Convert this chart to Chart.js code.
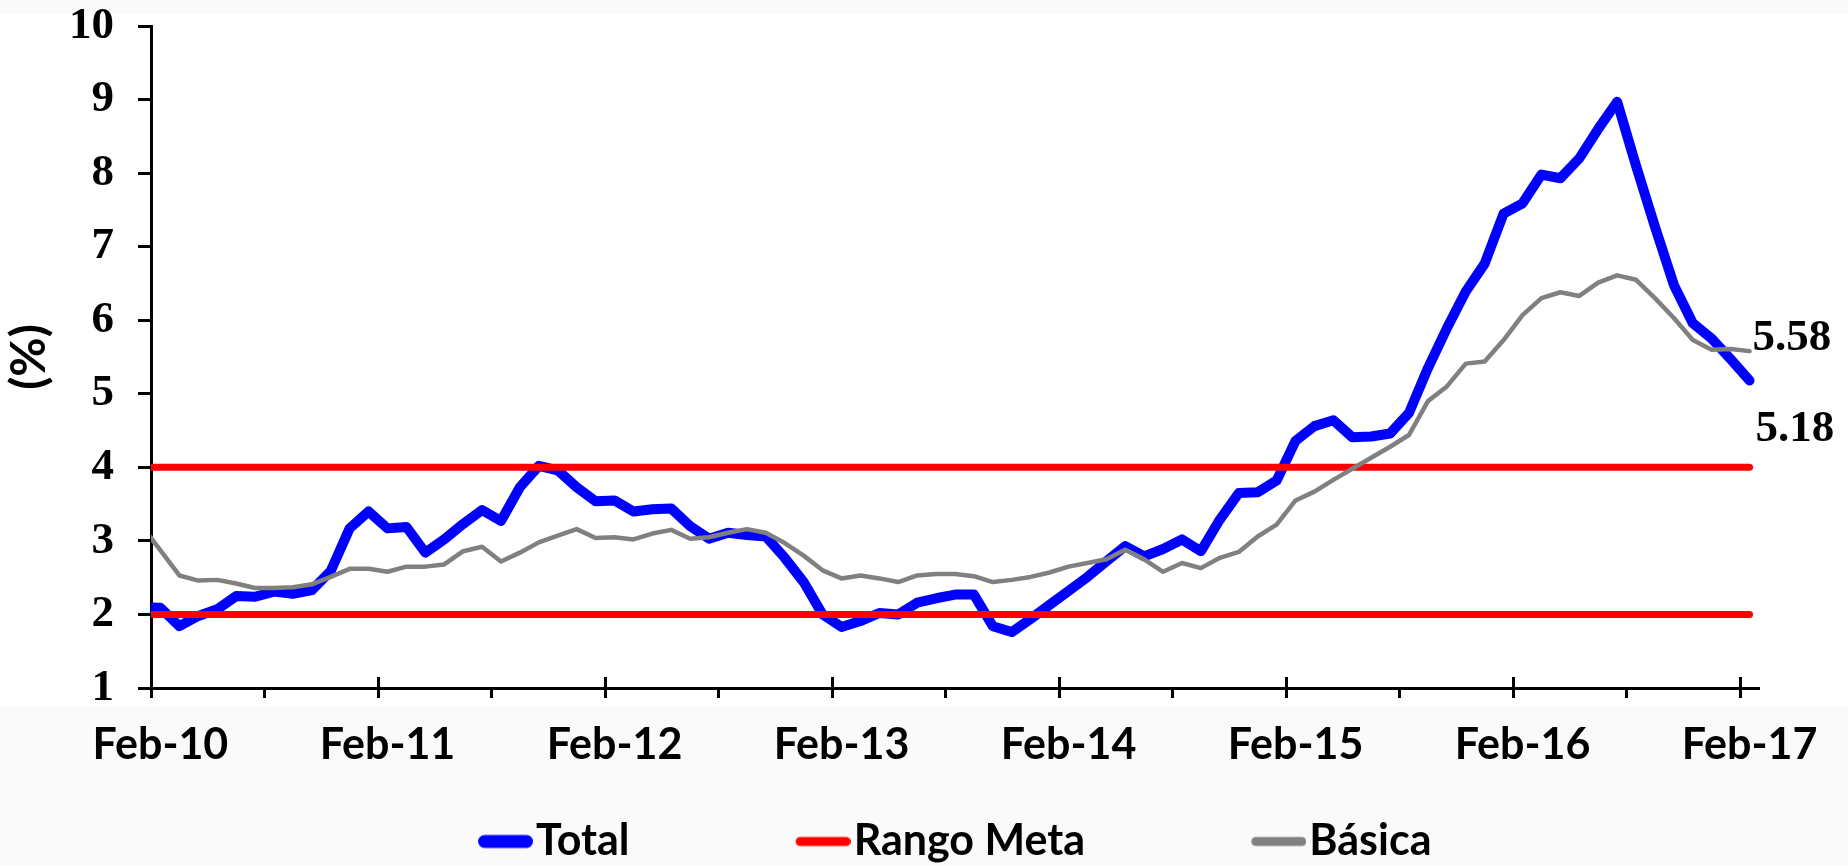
<!DOCTYPE html>
<html>
<head>
<meta charset="utf-8">
<script src="https://cdn.jsdelivr.net/npm/chart.js@4.4.1/dist/chart.umd.min.js"></script>
<style>
  html, body { margin: 0; padding: 0; }
  body {
    width: 1848px; height: 866px; overflow: hidden;
    background: linear-gradient(to bottom, #fafafa 0px, #fafafa 14px, #ffffff 14px, #ffffff 707px, #fafafa 707px, #fafafa 866px);
  }
  #c { display: block; }
</style>
</head>
<body>
<canvas id="c" width="1848" height="866"></canvas>
<script>
// ---------------- DATA ----------------
const months = [
  'Jan-10','Feb-10','Mar-10','Apr-10','May-10','Jun-10','Jul-10','Aug-10','Sep-10','Oct-10','Nov-10','Dec-10',
  'Jan-11','Feb-11','Mar-11','Apr-11','May-11','Jun-11','Jul-11','Aug-11','Sep-11','Oct-11','Nov-11','Dec-11',
  'Jan-12','Feb-12','Mar-12','Apr-12','May-12','Jun-12','Jul-12','Aug-12','Sep-12','Oct-12','Nov-12','Dec-12',
  'Jan-13','Feb-13','Mar-13','Apr-13','May-13','Jun-13','Jul-13','Aug-13','Sep-13','Oct-13','Nov-13','Dec-13',
  'Jan-14','Feb-14','Mar-14','Apr-14','May-14','Jun-14','Jul-14','Aug-14','Sep-14','Oct-14','Nov-14','Dec-14',
  'Jan-15','Feb-15','Mar-15','Apr-15','May-15','Jun-15','Jul-15','Aug-15','Sep-15','Oct-15','Nov-15','Dec-15',
  'Jan-16','Feb-16','Mar-16','Apr-16','May-16','Jun-16','Jul-16','Aug-16','Sep-16','Oct-16','Nov-16','Dec-16',
  'Jan-17','Feb-17'
];

const total = [
  2.10, 2.09, 1.84, 1.98, 2.07, 2.25, 2.24, 2.31, 2.28, 2.33, 2.59, 3.17,
  3.40, 3.17, 3.19, 2.84, 3.02, 3.23, 3.42, 3.27, 3.73, 4.02, 3.96, 3.73,
  3.54, 3.55, 3.40, 3.43, 3.44, 3.20, 3.03, 3.11, 3.08, 3.06, 2.77, 2.44,
  2.00, 1.83, 1.91, 2.02, 2.00, 2.16, 2.22, 2.27, 2.27, 1.84, 1.76, 1.94,
  2.13, 2.32, 2.51, 2.72, 2.93, 2.79, 2.89, 3.02, 2.86, 3.29, 3.65, 3.66,
  3.82, 4.36, 4.56, 4.64, 4.41, 4.42, 4.46, 4.74, 5.35, 5.89, 6.39, 6.77,
  7.45, 7.59, 7.98, 7.93, 8.20, 8.60, 8.97, 8.10, 7.27, 6.48, 5.96, 5.75,
  5.47, 5.18
];

const basica = [
  3.21, 2.87, 2.53, 2.46, 2.47, 2.42, 2.36, 2.36, 2.37, 2.41, 2.51, 2.62,
  2.62, 2.58, 2.65, 2.65, 2.68, 2.86, 2.92, 2.72, 2.84, 2.98, 3.07, 3.16,
  3.04, 3.05, 3.02, 3.10, 3.15, 3.03, 3.05, 3.11, 3.16, 3.11, 2.97, 2.80,
  2.60, 2.49, 2.53, 2.49, 2.44, 2.53, 2.55, 2.55, 2.52, 2.44, 2.47, 2.51,
  2.57, 2.65, 2.70, 2.75, 2.88, 2.75, 2.58, 2.70, 2.63, 2.77, 2.85, 3.06,
  3.22, 3.55, 3.67, 3.83, 3.98, 4.13, 4.28, 4.44, 4.90, 5.10, 5.41, 5.44,
  5.73, 6.07, 6.30, 6.38, 6.33, 6.51, 6.61, 6.55, 6.30, 6.03, 5.73, 5.60,
  5.61, 5.58
];

const targetRange = [2, 4];          // Rango Meta (lower, upper)
const firstShownMonth = 'Feb-10';     // axis starts here
const xTickLabels = ['Feb-10','Feb-11','Feb-12','Feb-13','Feb-14','Feb-15','Feb-16','Feb-17'];
const yTicks = [1, 2, 3, 4, 5, 6, 7, 8, 9, 10];
const seriesNames = { total: 'Total', meta: 'Rango Meta', basica: 'Básica' };

// ---------------- STYLE ----------------
const BLUE = '#0000ff', RED = '#ff0000', GREY = '#808080';
const SANS = 'Lato, "Open Sans", sans-serif';
const SERIF = '"Liberation Serif", "DejaVu Serif", serif';
const LEGEND_FONT = 43;
const LEGEND_BOX = 36;
const SAMPLE_LEN = 55;

function lineSample(color, thickness) {
  const c = document.createElement('canvas');
  c.width = LEGEND_BOX + LEGEND_FONT - 6; c.height = 20;
  const g = c.getContext('2d');
  g.strokeStyle = color; g.lineWidth = thickness; g.lineCap = 'round';
  g.beginPath();
  g.moveTo(c.width - SAMPLE_LEN + thickness / 2, 10);
  g.lineTo(c.width - thickness / 2, 10);
  g.stroke();
  return c;
}

const tickStubs = {
  id: 'tickStubs',
  afterDraw(chart) {
    const xs = chart.scales.x, ctx = chart.ctx, b = chart.chartArea.bottom;
    ctx.save();
    ctx.strokeStyle = '#000'; ctx.lineWidth = 3;
    xs.ticks.forEach(t => {
      if (xTickLabels.includes(months[t.value])) {
        const px = Math.round(xs.getPixelForValue(t.value - 0.5)) + 0.5;
        ctx.beginPath(); ctx.moveTo(px, b - 11); ctx.lineTo(px, b); ctx.stroke();
      }
    });
    ctx.restore();
  }
};

const endLabels = {
  id: 'endLabels',
  afterDatasetsDraw(chart) {
    const ctx = chart.ctx;
    ctx.save();
    ctx.font = 'bold 45px ' + SERIF;
    ctx.fillStyle = '#000';
    ctx.textAlign = 'left';
    ctx.textBaseline = 'alphabetic';
    chart.data.datasets.forEach((ds, di) => {
      if (!ds.endLabel) return;
      const meta = chart.getDatasetMeta(di);
      const pt = meta.data[meta.data.length - 1];
      const v = ds.data[ds.data.length - 1];
      ctx.fillText(v.toFixed(2), pt.x + ds.endLabel.dx, pt.y + ds.endLabel.dy);
    });
    ctx.restore();
  }
};

function build() {
  const lastM = months[months.length - 1];
  const legendDefs = [
    { text: seriesNames.total, color: BLUE, w: 13, ds: 3 },
    { text: seriesNames.meta, color: RED, w: 9, ds: 1 },
    { text: seriesNames.basica, color: GREY, w: 9, ds: 0 }
  ];

  new Chart(document.getElementById('c'), {
    type: 'line',
    data: {
      labels: months,
      datasets: [
        { label: seriesNames.basica, data: basica, borderColor: GREY, borderWidth: 4.5,
          pointRadius: 0, tension: 0, borderJoinStyle: 'round', borderCapStyle: 'round', clip: 0,
          endLabel: { dx: 3, dy: -1 } },
        { label: seriesNames.meta, data: [{x: months[0], y: targetRange[1]}, {x: lastM, y: targetRange[1]}],
          borderColor: RED, borderWidth: 7, pointRadius: 0, borderCapStyle: 'round', clip: 0 },
        { label: seriesNames.meta + ' ', data: [{x: months[0], y: targetRange[0]}, {x: lastM, y: targetRange[0]}],
          borderColor: RED, borderWidth: 7, pointRadius: 0, borderCapStyle: 'round', clip: 0 },
        { label: seriesNames.total, data: total, borderColor: BLUE, borderWidth: 10,
          pointRadius: 0, tension: 0, borderJoinStyle: 'round', borderCapStyle: 'round', clip: 0,
          endLabel: { dx: 6, dy: 60 } }
      ]
    },
    options: {
      responsive: false,
      animation: false,
      devicePixelRatio: 1,
      layout: { padding: { left: 0, top: 26, right: 89, bottom: 0 } },
      plugins: {
        title: { display: false },
        tooltip: { enabled: false },
        legend: {
          display: true,
          position: 'bottom',
          fullSize: false,
          maxHeight: 56,
          labels: {
            usePointStyle: true,
            pointStyleWidth: LEGEND_BOX,
            padding: 10,
            color: '#000',
            font: { family: SANS, size: LEGEND_FONT, weight: 'bold' },
            generateLabels(chart) {
              const ctx = chart.ctx;
              ctx.save(); ctx.font = 'bold ' + LEGEND_FONT + 'px ' + SANS;
              const sp = ctx.measureText(' ').width || 8;
              ctx.restore();
              const n = Math.round(157 / sp);
              return legendDefs.map((d, k) => ({
                text: d.text + (k < legendDefs.length - 1 ? ' '.repeat(n) : ''),
                pointStyle: lineSample(d.color, d.w),
                fillStyle: d.color, strokeStyle: d.color, lineWidth: 0,
                fontColor: '#000', hidden: false, datasetIndex: d.ds
              }));
            }
          }
        }
      },
      scales: {
        x: {
          type: 'category',
          min: firstShownMonth,
          offset: true,
          afterFit(scale) { scale.height = 122; },
          border: { display: true, color: '#000', width: 3 },
          grid: {
            display: true, drawOnChartArea: false, drawTicks: true, offset: true,
            tickLength: 10, tickWidth: 3,
            tickColor: c => (c.type === 'tick' && c.index % 6 === 0) ? '#000' : 'rgba(0,0,0,0)'
          },
          ticks: {
            autoSkip: false, maxRotation: 0, minRotation: 0, padding: 21,
            color: '#000',
            font: { family: SANS, size: 43, weight: 'bold' },
            callback(value) {
              const lab = this.getLabelForValue(value);
              return xTickLabels.includes(lab) ? lab : '';
            }
          }
        },
        y: {
          type: 'linear',
          min: yTicks[0], max: yTicks[yTicks.length - 1],
          afterFit(scale) { scale.width = 151; scale.paddingTop = 0; scale.paddingBottom = 0; },
          afterBuildTicks(scale) { scale.ticks = yTicks.map(v => ({ value: v })); },
          border: { display: true, color: '#000', width: 3 },
          grid: { display: true, drawOnChartArea: false, drawTicks: true, tickLength: 13, tickWidth: 3, tickColor: '#000' },
          ticks: {
            stepSize: 1, padding: 24, color: '#000',
            font: { family: SERIF, size: 45, weight: 'bold', lineHeight: 1.15 }
          },
          title: {
            display: true, text: '(%)', color: '#000',
            font: { family: SANS, size: 48, weight: 'bold' },
            padding: { top: 1, bottom: 4 }
          }
        }
      }
    },
    plugins: [tickStubs, endLabels]
  });
}

const fontLoads = [
  'bold 43px Lato', 'bold 48px Lato', 'bold 45px "Liberation Serif"'
].map(f => (document.fonts && document.fonts.load) ? document.fonts.load(f).catch(() => null) : Promise.resolve());
Promise.all(fontLoads).then(build, build);
</script>
</body>
</html>
